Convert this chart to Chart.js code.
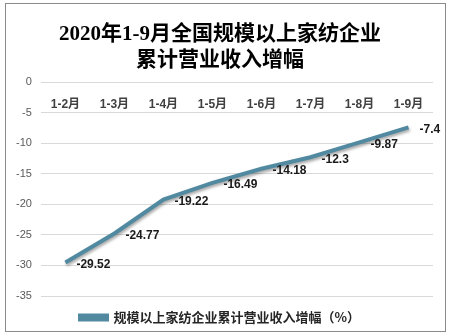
<!DOCTYPE html>
<html>
<head>
<meta charset="utf-8">
<script src="https://cdn.jsdelivr.net/npm/chart.js@4/dist/chart.umd.min.js"></script>
<style>
  html, body { margin: 0; padding: 0; background: #fff; }
  #wrap { width: 452px; height: 335px; }
</style>
</head>
<body>
<div id="wrap"><canvas id="growthChart" width="452" height="335"></canvas></div>
<script>
const months = ['1-2月', '1-3月', '1-4月', '1-5月', '1-6月', '1-7月', '1-8月', '1-9月'];
const revenueGrowth = [-29.52, -24.77, -19.22, -16.49, -14.18, -12.3, -9.87, -7.4];
const titleLines = ['2020年1-9月全国规模以上家纺企业', '累计营业收入增幅'];
const seriesName = '规模以上家纺企业累计营业收入增幅（%）';

const lineColor = '#5089a0';

// frame around the whole chart, like the exported picture
const framePlugin = {
    id: 'frame',
    beforeDraw(chart) {
        const ctx = chart.ctx;
        ctx.save();
        ctx.fillStyle = '#fff';
        ctx.fillRect(0, 0, chart.width, chart.height);
        ctx.strokeStyle = '#8a8a8a';
        ctx.lineWidth = 1;
        ctx.strokeRect(5.5, 3.5, 440, 328);
        ctx.restore();
    }
};

// soft shadow under the line
const shadowPlugin = {
    id: 'lineShadow',
    beforeDatasetDraw(chart) {
        const ctx = chart.ctx;
        ctx.save();
        ctx.shadowColor = 'rgba(0,0,0,0.35)';
        ctx.shadowBlur = 3;
        ctx.shadowOffsetX = 1;
        ctx.shadowOffsetY = 2;
    },
    afterDatasetDraw(chart) {
        chart.ctx.restore();
    }
};

// value labels to the right of each point
const valueLabels = {
    id: 'valueLabels',
    afterDatasetsDraw(chart) {
        const ctx = chart.ctx;
        const meta = chart.getDatasetMeta(0);
        const values = chart.data.datasets[0].data;
        ctx.save();
        ctx.font = 'bold 12px "Liberation Sans", Arial, sans-serif';
        ctx.fillStyle = '#1a1a1a';
        ctx.textAlign = 'left';
        ctx.textBaseline = 'middle';
        meta.data.forEach((pt, i) => {
            ctx.fillText(String(values[i]), pt.x + 11, pt.y + 2);
        });
        ctx.restore();
    }
};

new Chart(document.getElementById('growthChart').getContext('2d'), {
    type: 'line',
    data: {
        labels: months,
        datasets: [{
            label: seriesName,
            data: revenueGrowth,
            borderColor: lineColor,
            backgroundColor: lineColor,
            borderWidth: 4,
            pointRadius: 0,
            tension: 0,
            fill: false
        }]
    },
    options: {
        responsive: false,
        animation: false,
        layout: {
            padding: { top: 22, left: 7, right: 19, bottom: 1 }
        },
        scales: {
            x: {
                type: 'category',
                position: { y: 0 },
                offset: true,
                grid: { display: false },
                border: { display: false },
                ticks: {
                    padding: 7,
                    color: '#404040',
                    font: { size: 12, weight: 'bold', family: '"Liberation Sans", "Noto Sans CJK SC", sans-serif' }
                }
            },
            y: {
                min: -35,
                max: 0,
                border: { display: false },
                grid: { color: '#d9d9d9', drawTicks: false },
                ticks: {
                    stepSize: 5,
                    padding: 9,
                    color: '#595959',
                    font: { size: 11, family: '"Liberation Sans", Arial, sans-serif' }
                }
            }
        },
        plugins: {
            title: {
                display: true,
                text: titleLines,
                color: '#000',
                padding: { top: 0, bottom: 8 },
                font: { size: 21, weight: 'bold', lineHeight: 1.24, family: '"Liberation Serif", "Noto Sans CJK SC", serif' }
            },
            legend: {
                position: 'bottom',
                labels: {
                    boxWidth: 27,
                    boxHeight: 4,
                    padding: 15,
                    color: '#262626',
                    font: { size: 13, weight: 'bold', family: '"Noto Sans CJK SC", sans-serif' }
                }
            },
            tooltip: { enabled: false }
        }
    },
    plugins: [framePlugin, shadowPlugin, valueLabels]
});
</script>
</body>
</html>
